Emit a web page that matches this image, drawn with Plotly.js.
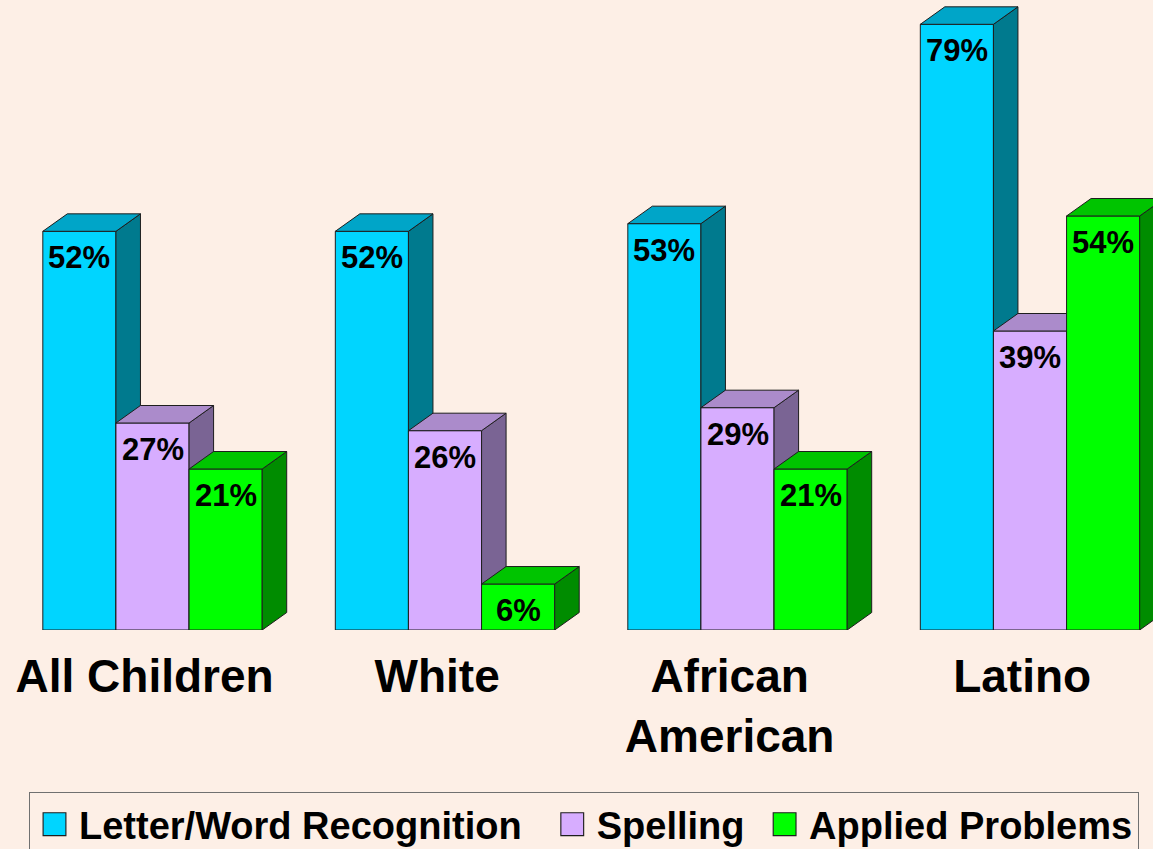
<!DOCTYPE html>
<html>
<head>
<meta charset="utf-8">
<script src="https://cdn.plot.ly/plotly-3.0.1.min.js"></script>
<style>
  html, body { margin: 0; padding: 0; background: #FDEFE6; }
  #chart { width: 1153px; height: 849px; }
</style>
</head>
<body>
<div id="chart"></div>
<script>
// ---- data ----
const categories = ['All Children', 'White', 'African<br>American', 'Latino'];
const seriesNames = ['Letter/Word Recognition', 'Spelling', 'Applied Problems'];
const letterWordRecognition = [52, 52, 53, 79];
const spelling = [27, 26, 29, 39];
const appliedProblems = [21, 6, 21, 54];

// ---- styles ----
const BG = '#FDEFE6';
const EDGE = '#1e1e1e';
const FONT = 'Liberation Sans, Arial, Helvetica, sans-serif';
const frontColors = ['#00D5FF', '#D7ADFF', '#00FF00'];
const topColors   = ['#00A5C8', '#AB8BCB', '#00C400'];
const sideColors  = ['#007A8E', '#7A6494', '#008C00'];
const legendPad   = ['\u00A0\u00A0', '\u00A0', ''];   // extra gap after each legend entry

const seriesValues = [letterWordRecognition, spelling, appliedProblems];
const BAR_W = 0.25;          // width of one bar in category units
const DEPTH_X = 0.0838;      // 3-D depth offset (category units)
const DEPTH_Y = 2.28;        // 3-D depth offset (percentage units)
const X_RANGE = [-0.5214, 3.4205];
const Y_RANGE = [0, 82.17];

const xIdx = categories.map((c, i) => i);
const traces = [];
const annotations = [];

seriesValues.forEach((vals, k) => {
  const ax = k === 0 ? '' : String(k + 1);
  const offset = -0.375 + BAR_W * k;
  // front faces (real bars)
  traces.push({
    type: 'bar',
    name: seriesNames[k] + legendPad[k],
    x: xIdx,
    y: vals,
    width: BAR_W,
    offset: offset,
    xaxis: 'x' + ax,
    yaxis: 'y' + ax,
    marker: { color: frontColors[k], line: { color: EDGE, width: 1 } },
    hoverinfo: 'skip',
    showlegend: true
  });
  // side and top faces, computed from the same values
  const sx = [], sy = [], tx = [], ty = [];
  vals.forEach((v, i) => {
    const x0 = i + offset, x1 = x0 + BAR_W;
    sx.push(x1, x1 + DEPTH_X, x1 + DEPTH_X, x1, x1, null);
    sy.push(0, DEPTH_Y, v + DEPTH_Y, v, 0, null);
    tx.push(x0, x0 + DEPTH_X, x1 + DEPTH_X, x1, x0, null);
    ty.push(v, v + DEPTH_Y, v + DEPTH_Y, v, v, null);
    annotations.push({
      x: x0 + BAR_W / 2, y: v, xref: 'x', yref: 'y',
      text: v + '%', showarrow: false,
      yanchor: 'top', xanchor: 'center', yshift: -7,
      font: { family: FONT, size: 31, color: '#000', weight: 700 }
    });
  });
  traces.push({
    type: 'scatter', mode: 'lines', x: sx, y: sy, fill: 'toself',
    fillcolor: sideColors[k], line: { color: EDGE, width: 1 },
    xaxis: 'x' + ax, yaxis: 'y' + ax, hoverinfo: 'skip', showlegend: false
  });
  traces.push({
    type: 'scatter', mode: 'lines', x: tx, y: ty, fill: 'toself',
    fillcolor: topColors[k], line: { color: EDGE, width: 1 },
    xaxis: 'x' + ax, yaxis: 'y' + ax, hoverinfo: 'skip', showlegend: false
  });
});

const hiddenX = { range: X_RANGE, visible: false, fixedrange: true };
const hiddenY = { range: Y_RANGE, visible: false, fixedrange: true };

const layout = {
  width: 1153, height: 849,
  margin: { l: 0, r: 0, t: 0, b: 219, pad: 0, autoexpand: false },
  paper_bgcolor: BG, plot_bgcolor: BG,
  font: { family: FONT, color: '#000' },
  showlegend: true,
  xaxis: {
    range: X_RANGE, fixedrange: true, automargin: false,
    tickvals: xIdx.map(i => i - 0.027), ticktext: categories,
    ticks: '', showgrid: false, zeroline: false, showline: false,
    ticklabelstandoff: 15,
    tickfont: { family: FONT, size: 46, color: '#000', weight: 700 }
  },
  yaxis: { range: Y_RANGE, visible: false, fixedrange: true },
  xaxis2: Object.assign({ overlaying: 'x', anchor: 'y2' }, hiddenX),
  yaxis2: Object.assign({ overlaying: 'y', anchor: 'x2' }, hiddenY),
  xaxis3: Object.assign({ overlaying: 'x', anchor: 'y3' }, hiddenX),
  yaxis3: Object.assign({ overlaying: 'y', anchor: 'x3' }, hiddenY),
  legend: {
    orientation: 'h',
    x: 29 / 1153, xanchor: 'left',
    y: -(792 - 630) / 630, yanchor: 'top',
    bgcolor: BG, bordercolor: '#707070', borderwidth: 1,
    itemwidth: 39,
    font: { family: FONT, size: 38, color: '#000', weight: 700 },
    traceorder: 'normal', itemclick: false, itemdoubleclick: false
  },
  annotations: annotations
};

Plotly.newPlot('chart', traces, layout, { displayModeBar: false, staticPlot: true }).then(gd => {
  // enlarge legend swatches to match the reference's big squares
  gd.querySelectorAll('.legend .legendpoints path').forEach(p => {
    const t = p.getAttribute('transform') || '';
    p.setAttribute('transform', t + ' scale(1.9)');
    p.style.strokeWidth = '0.6px';
  });
});
</script>
</body>
</html>
